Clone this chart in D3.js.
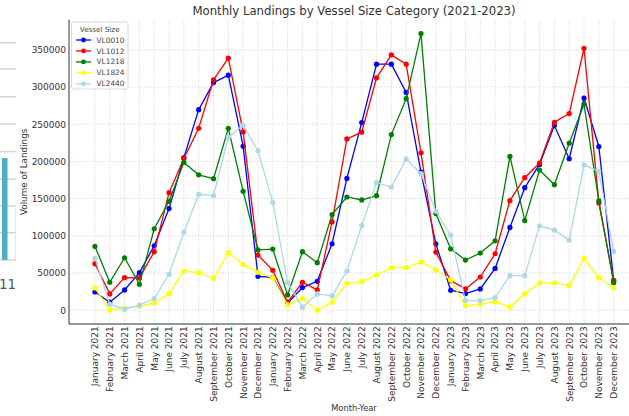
<!DOCTYPE html>
<html>
<head>
<meta charset="utf-8">
<script src="https://cdn.jsdelivr.net/npm/d3@7/dist/d3.min.js"></script>
<style>
  html, body { margin: 0; padding: 0; background: #fff; }
  svg { display: block; font-family: "DejaVu Sans", sans-serif; }
</style>
</head>
<body>
<svg id="chart" width="629" height="416"></svg>
<script>
// Month labels (x axis categories)
const months = [
  "January 2021","February 2021","March 2021","April 2021","May 2021","June 2021",
  "July 2021","August 2021","September 2021","October 2021","November 2021","December 2021",
  "January 2022","February 2022","March 2022","April 2022","May 2022","June 2022",
  "July 2022","August 2022","September 2022","October 2022","November 2022","December 2022",
  "January 2023","February 2023","March 2023","April 2023","May 2023","June 2023",
  "July 2023","August 2023","September 2023","October 2023","November 2023","December 2023"
];

// Landings per vessel size category
const vl0010 = [24500,10700,27200,50400,86600,136600,205000,269600,306000,316000,220500,45500,
                44200,9400,30400,38800,89300,177200,252200,330800,330800,292800,185700,89300,
                26800,22300,28600,56200,111200,164700,196000,248200,203600,285300,220100,40200];
const vl1012 = [62500,21900,43700,43300,78600,158000,204000,244600,309800,338800,239700,74100,
                53600,10700,37500,27200,118700,230300,239300,312500,343300,330800,211600,78100,
                39700,28600,44600,75900,147300,178100,197800,252700,264300,352200,144200,39700];
const vl1218 = [85700,37500,70500,34800,109400,146400,198600,182000,176800,244600,159800,81200,
                82100,20500,78600,63800,128600,152200,148200,154000,236100,284400,371900,129900,
                82600,67400,76800,93300,206700,120500,188400,168700,224500,277200,146900,37000];
const vl1824 = [29900,0,2700,5400,9400,21900,52700,50400,42900,77700,61200,50900,
                43700,7100,15600,0,10700,36200,38400,47300,57100,57100,64700,54000,
                40600,5800,8500,11600,4000,22300,36600,36600,33000,69600,43700,30400];
const vl2440 = [69600,8000,1300,6700,15600,48200,104900,155800,154000,232600,248600,214300,
                145000,37000,4000,21900,19200,52700,113800,171400,165600,203100,183500,133000,
                100900,12900,12900,17000,46400,46400,113400,107600,94200,195500,186600,79000];

const seriesNames = ["VL0010","VL1012","VL1218","VL1824","VL2440"];
const seriesColors = ["#0000ff","#ff0000","#008000","#ffff00","#add8e6"];
const seriesValues = [vl0010, vl1012, vl1218, vl1824, vl2440];
const yTicks = [0,50000,100000,150000,200000,250000,300000,350000];

const svg = d3.select("#chart");

// Side panel fragment at the far left edge
const side = svg.append("g");
[42.7,69,96.7,124,151.7,179,206,232.7,260].forEach(yy => {
  side.append("line").attr("x1",0).attr("x2",16).attr("y1",yy).attr("y2",yy)
    .attr("stroke","#d0d0d0").attr("stroke-width",1.3);
});
side.append("line").attr("x1",15.5).attr("x2",15.5).attr("y1",208).attr("y2",260)
  .attr("stroke","#dde6ea").attr("stroke-width",1);
side.append("rect").attr("x",2).attr("y",158).attr("width",5.5).attr("height",102)
  .attr("fill","#4bafc9");
side.append("text").attr("x",-1).attr("y",289).attr("font-size",13.5)
  .attr("fill","#555").text("11");

// Plot area
const plotLeft = 69, plotRight = 639.6, plotTop = 19.7, plotBottom = 324;
const x = d3.scalePoint().domain(months).range([plotLeft, plotRight]).padding(1.75);
const y = d3.scaleLinear().domain([-18600, 390600]).range([plotBottom, plotTop]);

// Grid
const grid = svg.append("g");
grid.selectAll("line.v").data(months).join("line")
  .attr("x1", d => x(d)).attr("x2", d => x(d))
  .attr("y1", plotTop).attr("y2", plotBottom)
  .attr("stroke", "#d4d4d4").attr("stroke-width", 0.8).attr("stroke-dasharray", "1.5,1.5");
grid.selectAll("line.h").data(yTicks).join("line")
  .attr("x1", plotLeft).attr("x2", plotRight)
  .attr("y1", d => y(d)).attr("y2", d => y(d))
  .attr("stroke", "#d4d4d4").attr("stroke-width", 0.8).attr("stroke-dasharray", "1.5,1.5");

// Axes
const yAxis = svg.append("g").attr("transform", `translate(${plotLeft},0)`)
  .call(d3.axisLeft(y).tickValues(yTicks).tickSize(0).tickPadding(3).tickFormat(d3.format("d")));
yAxis.select(".domain").remove();
yAxis.selectAll("text").attr("font-size", 9).attr("fill", "#333").attr("font-family","DejaVu Sans");

const xAxis = svg.append("g").attr("transform", `translate(0,${plotBottom})`)
  .call(d3.axisBottom(x).tickSize(0).tickPadding(3));
xAxis.select(".domain").remove();
xAxis.selectAll("text")
  .attr("font-size", 9).attr("fill", "#333").attr("font-family","DejaVu Sans")
  .attr("text-anchor", "end")
  .attr("transform", "rotate(-90)")
  .attr("dx", "-0.25em").attr("dy", "0.32em").attr("x", 0).attr("y", 0);

// Spines
svg.append("line").attr("x1", plotLeft).attr("x2", plotLeft).attr("y1", plotTop).attr("y2", plotBottom)
  .attr("stroke", "#333").attr("stroke-width", 1);
svg.append("line").attr("x1", plotLeft).attr("x2", plotRight).attr("y1", plotBottom).attr("y2", plotBottom)
  .attr("stroke", "#333").attr("stroke-width", 1);

// Series
const line = d3.line().x((d, i) => x(months[i])).y(d => y(d));
seriesValues.forEach((vals, k) => {
  const g = svg.append("g");
  g.append("path").datum(vals).attr("d", line)
    .attr("fill", "none").attr("stroke", seriesColors[k]).attr("stroke-width", 1.3);
  g.selectAll("circle").data(vals).join("circle")
    .attr("cx", (d, i) => x(months[i])).attr("cy", d => y(d)).attr("r", 2.6)
    .attr("fill", seriesColors[k]);
});

// Titles
svg.append("text").attr("x", 354).attr("y", 15).attr("text-anchor", "middle")
  .attr("font-size", 11.7).attr("fill", "#333")
  .text("Monthly Landings by Vessel Size Category (2021-2023)");
svg.append("text").attr("x", 354).attr("y", 411).attr("text-anchor", "middle")
  .attr("font-size", 8.3).attr("fill", "#333").text("Month-Year");
svg.append("text").attr("transform", `translate(24,${(plotTop + plotBottom) / 2}) rotate(-90)`)
  .attr("text-anchor", "middle").attr("dy", "0.35em")
  .attr("font-size", 8.8).attr("fill", "#333").text("Volume of Landings");

// Legend
const lg = svg.append("g");
lg.append("rect").attr("x", 71.5).attr("y", 22).attr("width", 56.5).attr("height", 67)
  .attr("rx", 2).attr("fill", "#fff").attr("fill-opacity", 0.85)
  .attr("stroke", "#d0d0d0").attr("stroke-width", 0.8);
lg.append("text").attr("x", 99.7).attr("y", 31.5).attr("text-anchor", "middle")
  .attr("font-size", 7.2).attr("fill", "#444").text("Vessel Size");
seriesNames.forEach((name, k) => {
  const cy = 40 + k * 10.95;
  lg.append("line").attr("x1", 76).attr("x2", 91).attr("y1", cy).attr("y2", cy)
    .attr("stroke", seriesColors[k]).attr("stroke-width", 1.3);
  lg.append("circle").attr("cx", 83.5).attr("cy", cy).attr("r", 2.4).attr("fill", seriesColors[k]);
  lg.append("text").attr("x", 96.5).attr("y", cy).attr("dy", "0.35em")
    .attr("font-size", 7.4).attr("fill", "#444").text(name);
});
</script>
</body>
</html>
